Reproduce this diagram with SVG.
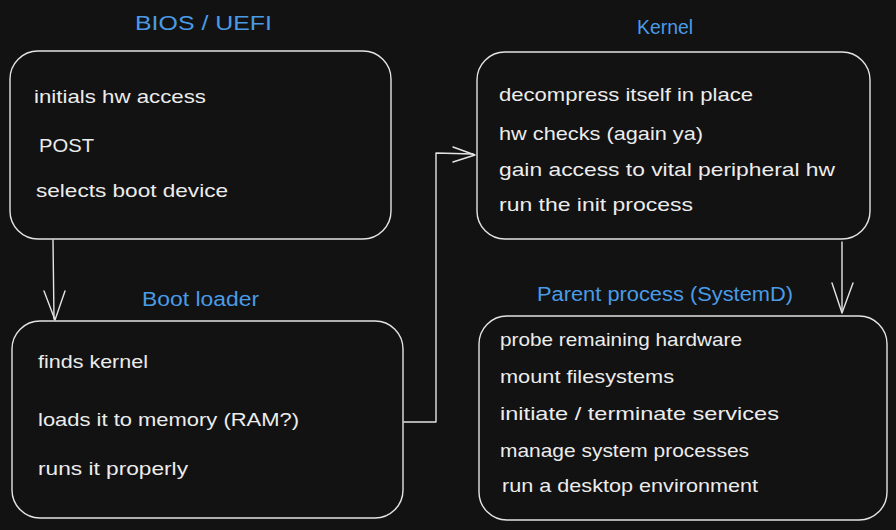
<svg xmlns="http://www.w3.org/2000/svg" width="896" height="530" viewBox="0 0 896 530">
<style>
.box{fill:#121212;stroke:#e4e4e4;stroke-width:1.4}
.t{font-family:"Liberation Sans",Arial,sans-serif;font-size:19px;fill:#ececec}
.h{font-family:"Liberation Sans",Arial,sans-serif;font-size:20px;fill:#4a9be6}
.c{fill:none;stroke:#e4e4e4;stroke-width:1.4;stroke-linecap:round;stroke-linejoin:round}
</style>
<rect x="0" y="0" width="896" height="530" fill="#121212"/>
<g id="bios">
<rect class="box" x="10" y="51" width="381" height="188" rx="28"/>
<text class="h" x="135" y="30" textLength="137" lengthAdjust="spacingAndGlyphs">BIOS / UEFI</text>
<text class="t" x="34" y="103" textLength="172" lengthAdjust="spacingAndGlyphs">initials hw access</text>
<text class="t" x="39" y="152" textLength="55" lengthAdjust="spacingAndGlyphs">POST</text>
<text class="t" x="36" y="197" textLength="192" lengthAdjust="spacingAndGlyphs">selects boot device</text>
</g>
<g id="bootloader">
<rect class="box" x="12" y="321" width="391" height="197" rx="28"/>
<text class="h" x="142" y="306" textLength="117" lengthAdjust="spacingAndGlyphs">Boot loader</text>
<text class="t" x="38" y="368" textLength="110" lengthAdjust="spacingAndGlyphs">finds kernel</text>
<text class="t" x="38" y="426" textLength="261" lengthAdjust="spacingAndGlyphs">loads it to memory (RAM?)</text>
<text class="t" x="38" y="475" textLength="150" lengthAdjust="spacingAndGlyphs">runs it properly</text>
</g>
<g id="kernel">
<rect class="box" x="477" y="52" width="393" height="187" rx="28"/>
<text class="h" x="637" y="34" textLength="56" lengthAdjust="spacingAndGlyphs">Kernel</text>
<text class="t" x="499" y="101" textLength="254" lengthAdjust="spacingAndGlyphs">decompress itself in place</text>
<text class="t" x="499" y="140" textLength="204" lengthAdjust="spacingAndGlyphs">hw checks (again ya)</text>
<text class="t" x="499" y="176" textLength="336" lengthAdjust="spacingAndGlyphs">gain access to vital peripheral hw</text>
<text class="t" x="499" y="211" textLength="194" lengthAdjust="spacingAndGlyphs">run the init process</text>
</g>
<g id="parent">
<rect class="box" x="479" y="316" width="408" height="204" rx="28"/>
<text class="h" x="537" y="301" textLength="256" lengthAdjust="spacingAndGlyphs">Parent process (SystemD)</text>
<text class="t" x="500" y="346" textLength="242" lengthAdjust="spacingAndGlyphs">probe remaining hardware</text>
<text class="t" x="500" y="383" textLength="174" lengthAdjust="spacingAndGlyphs">mount filesystems</text>
<text class="t" x="500" y="420" textLength="279" lengthAdjust="spacingAndGlyphs">initiate / terminate services</text>
<text class="t" x="500" y="457" textLength="249" lengthAdjust="spacingAndGlyphs">manage system processes</text>
<text class="t" x="502" y="492" textLength="256" lengthAdjust="spacingAndGlyphs">run a desktop environment</text>
</g>
<g id="connectors">
<path class="c" d="M53 240 L54 319"/>
<path class="c" d="M44 291 L55 320 L65 291"/>
<path class="c" d="M404 422 L436 422 L436 153 L473 154"/>
<path class="c" d="M453 147 L475 155 L453 162"/>
<path class="c" d="M842 242 L842 312"/>
<path class="c" d="M832 283 L842 313 L853 283"/>
</g>
</svg>
